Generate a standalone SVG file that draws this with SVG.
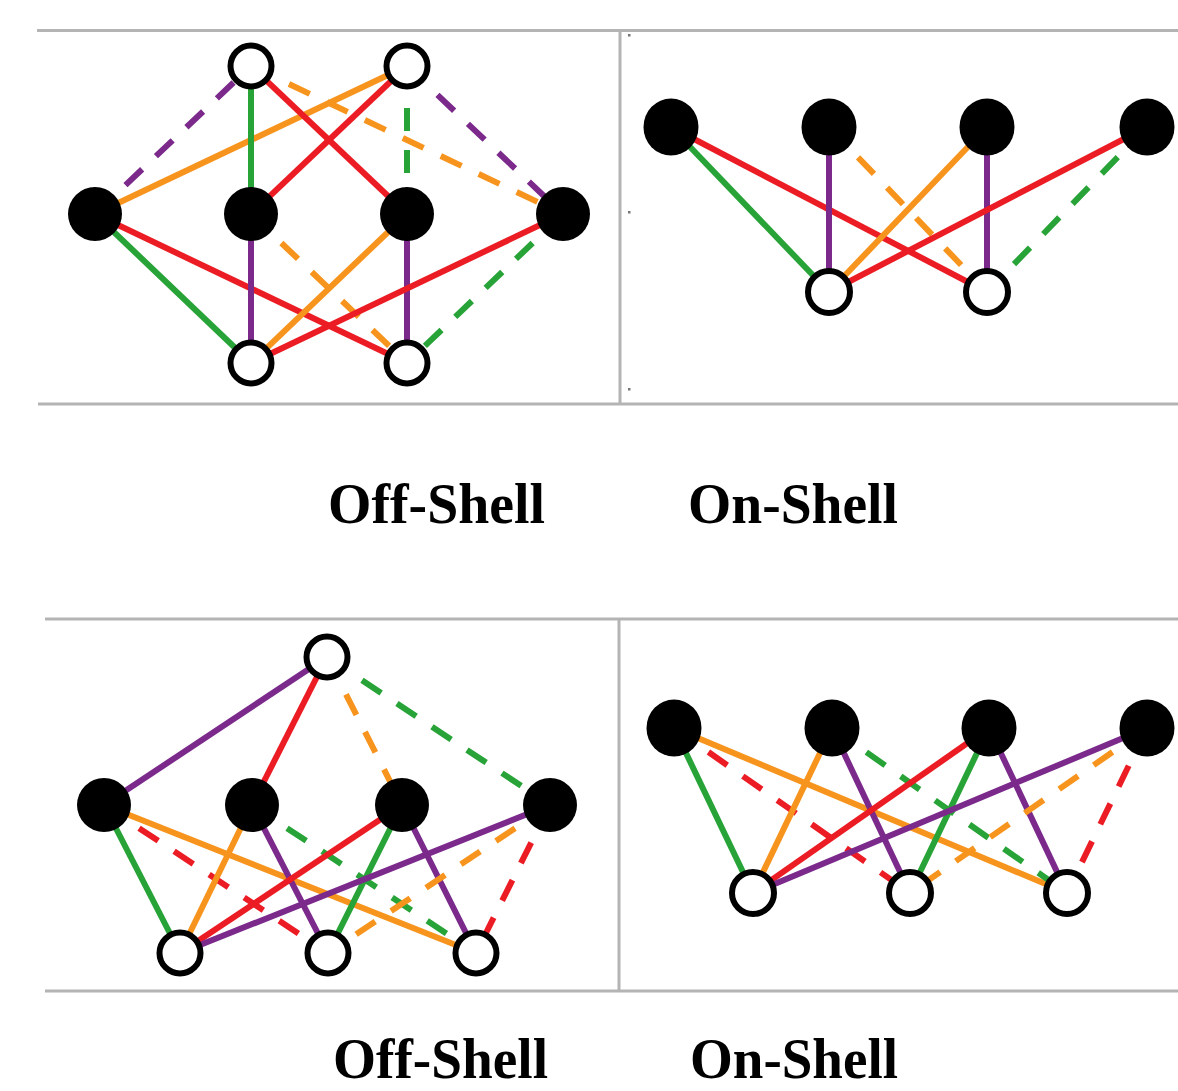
<svg xmlns="http://www.w3.org/2000/svg" width="1178" height="1091" viewBox="0 0 1178 1091">
  <style>
    .rule { stroke: #b4b4b4; stroke-width: 3; fill: none; }
    .tick { fill: #777; }
    .e { stroke-width: 6; fill: none; stroke-linecap: butt; }
    .dash { stroke-dasharray: 23 19; }
    .g { stroke: #27a337; }
    .r { stroke: #ec1c24; }
    .o { stroke: #f7941d; }
    .p { stroke: #7b2a8c; }
    .full { fill: #000; }
    .open { fill: #fff; stroke: #000; stroke-width: 6; }
    .label { font-family: "Liberation Serif", "Times New Roman", serif; font-weight: bold; font-size: 56px; fill: #000; }
  </style>

  <rect x="0" y="0" width="1178" height="1091" fill="#fff"/>

  <!-- table rules -->
  <g id="rules">
    <line class="rule" x1="37" y1="30.5" x2="1178" y2="30.5"/>
    <line class="rule" x1="38" y1="404" x2="1178" y2="404"/>
    <line class="rule" x1="620" y1="30" x2="620" y2="404"/>
    <line class="rule" x1="45" y1="619" x2="1178" y2="619"/>
    <line class="rule" x1="45" y1="991" x2="1178" y2="991"/>
    <line class="rule" x1="619" y1="619" x2="619" y2="991"/>
    <rect class="tick" x="628" y="34" width="2.5" height="2.5"/>
    <rect class="tick" x="628" y="211" width="2.5" height="2.5"/>
    <rect class="tick" x="628" y="388" width="2.5" height="2.5"/>
  </g>

  <!-- connectors -->
  <g id="connectors">
    <!-- upper left: off-shell -->
    <line class="e p dash" x1="95" y1="214" x2="251" y2="66"/>
    <line class="e o" x1="95" y1="214" x2="407" y2="66"/>
    <line class="e g" x1="251" y1="66" x2="251" y2="214"/>
    <line class="e r" x1="251" y1="66" x2="407" y2="214"/>
    <line class="e r" x1="407" y1="66" x2="251" y2="214"/>
    <line class="e o dash" x1="251" y1="66" x2="563" y2="214"/>
    <line class="e g dash" x1="407" y1="66" x2="407" y2="214"/>
    <line class="e p dash" x1="407" y1="66" x2="563" y2="214"/>
    <line class="e g" x1="95" y1="214" x2="251" y2="363"/>
    <line class="e r" x1="95" y1="214" x2="407" y2="363"/>
    <line class="e p" x1="251" y1="214" x2="251" y2="363"/>
    <line class="e o dash" x1="251" y1="214" x2="407" y2="363"/>
    <line class="e o" x1="407" y1="214" x2="251" y2="363"/>
    <line class="e p" x1="407" y1="214" x2="407" y2="363"/>
    <line class="e r" x1="563" y1="214" x2="251" y2="363"/>
    <line class="e g dash" x1="563" y1="214" x2="407" y2="363"/>

    <!-- upper right: on-shell -->
    <line class="e g" x1="671" y1="127" x2="829" y2="292"/>
    <line class="e r" x1="671" y1="127" x2="987" y2="292"/>
    <line class="e p" x1="829" y1="127" x2="829" y2="292"/>
    <line class="e o dash" x1="829" y1="127" x2="987" y2="292"/>
    <line class="e o" x1="987" y1="127" x2="829" y2="292"/>
    <line class="e p" x1="987" y1="127" x2="987" y2="292"/>
    <line class="e r" x1="1147" y1="127" x2="829" y2="292"/>
    <line class="e g dash" x1="1147" y1="127" x2="987" y2="292"/>

    <!-- lower left: off-shell -->
    <line class="e p" x1="327" y1="657" x2="104" y2="805"/>
    <line class="e r" x1="327" y1="657" x2="252" y2="805"/>
    <line class="e o dash" x1="327" y1="657" x2="402" y2="805"/>
    <line class="e g dash" x1="327" y1="657" x2="550" y2="805"/>
    <line class="e g" x1="104" y1="805" x2="180" y2="953"/>
    <line class="e r dash" x1="104" y1="805" x2="328" y2="953"/>
    <line class="e o" x1="104" y1="805" x2="476" y2="953"/>
    <line class="e o" x1="252" y1="805" x2="180" y2="953"/>
    <line class="e p" x1="252" y1="805" x2="328" y2="953"/>
    <line class="e g dash" x1="252" y1="805" x2="476" y2="953"/>
    <line class="e r" x1="402" y1="805" x2="180" y2="953"/>
    <line class="e g" x1="402" y1="805" x2="328" y2="953"/>
    <line class="e p" x1="402" y1="805" x2="476" y2="953"/>
    <line class="e p" x1="550" y1="805" x2="180" y2="953"/>
    <line class="e o dash" x1="550" y1="805" x2="328" y2="953"/>
    <line class="e r dash" x1="550" y1="805" x2="476" y2="953"/>

    <!-- lower right: on-shell -->
    <line class="e g" x1="674" y1="728" x2="753" y2="893"/>
    <line class="e r dash" x1="674" y1="728" x2="910" y2="893"/>
    <line class="e o" x1="674" y1="728" x2="1067" y2="893"/>
    <line class="e o" x1="832" y1="728" x2="753" y2="893"/>
    <line class="e p" x1="832" y1="728" x2="910" y2="893"/>
    <line class="e g dash" x1="832" y1="728" x2="1067" y2="893"/>
    <line class="e r" x1="989" y1="728" x2="753" y2="893"/>
    <line class="e g" x1="989" y1="728" x2="910" y2="893"/>
    <line class="e p" x1="989" y1="728" x2="1067" y2="893"/>
    <line class="e p" x1="1147" y1="728" x2="753" y2="893"/>
    <line class="e o dash" x1="1147" y1="728" x2="910" y2="893"/>
    <line class="e r dash" x1="1147" y1="728" x2="1067" y2="893"/>
  </g>

  <!-- upper left nodes -->
  <g id="ul-o1"><circle class="open" cx="251" cy="66" r="20.5"/></g>
  <g id="ul-o2"><circle class="open" cx="407" cy="66" r="20.5"/></g>
  <g id="ul-f1"><circle class="full" cx="95" cy="214" r="27"/></g>
  <g id="ul-f2"><circle class="full" cx="251" cy="214" r="27"/></g>
  <g id="ul-f3"><circle class="full" cx="407" cy="214" r="27"/></g>
  <g id="ul-f4"><circle class="full" cx="563" cy="214" r="27"/></g>
  <g id="ul-b1"><circle class="open" cx="251" cy="363" r="20.5"/></g>
  <g id="ul-b2"><circle class="open" cx="407" cy="363" r="20.5"/></g>

  <!-- upper right nodes -->
  <g id="ur-f1"><ellipse class="full" cx="671" cy="127" rx="27.5" ry="28.5"/></g>
  <g id="ur-f2"><ellipse class="full" cx="829" cy="127" rx="27.5" ry="28.5"/></g>
  <g id="ur-f3"><ellipse class="full" cx="987" cy="127" rx="27.5" ry="28.5"/></g>
  <g id="ur-f4"><ellipse class="full" cx="1147" cy="127" rx="27.5" ry="28.5"/></g>
  <g id="ur-b1"><circle class="open" cx="829" cy="292" r="21"/></g>
  <g id="ur-b2"><circle class="open" cx="987" cy="292" r="21"/></g>

  <!-- lower left nodes -->
  <g id="ll-t"><circle class="open" cx="327" cy="657" r="20.5"/></g>
  <g id="ll-f1"><circle class="full" cx="104" cy="805" r="27"/></g>
  <g id="ll-f2"><circle class="full" cx="252" cy="805" r="27"/></g>
  <g id="ll-f3"><circle class="full" cx="402" cy="805" r="27"/></g>
  <g id="ll-f4"><circle class="full" cx="550" cy="805" r="27"/></g>
  <g id="ll-b1"><circle class="open" cx="180" cy="953" r="20.5"/></g>
  <g id="ll-b2"><circle class="open" cx="328" cy="953" r="20.5"/></g>
  <g id="ll-b3"><circle class="open" cx="476" cy="953" r="20.5"/></g>

  <!-- lower right nodes -->
  <g id="lr-f1"><ellipse class="full" cx="674" cy="728" rx="27.5" ry="28.5"/></g>
  <g id="lr-f2"><ellipse class="full" cx="832" cy="728" rx="27.5" ry="28.5"/></g>
  <g id="lr-f3"><ellipse class="full" cx="989" cy="728" rx="27.5" ry="28.5"/></g>
  <g id="lr-f4"><ellipse class="full" cx="1147" cy="728" rx="27.5" ry="28.5"/></g>
  <g id="lr-b1"><circle class="open" cx="753" cy="893" r="21"/></g>
  <g id="lr-b2"><circle class="open" cx="910" cy="893" r="21"/></g>
  <g id="lr-b3"><circle class="open" cx="1067" cy="893" r="21"/></g>

  <!-- captions -->
  <g id="captions">
    <text class="label" x="328" y="523" textLength="217" lengthAdjust="spacingAndGlyphs">Off-Shell</text>
    <text class="label" x="688" y="523" textLength="210" lengthAdjust="spacingAndGlyphs">On-Shell</text>
    <text class="label" x="333" y="1078" textLength="215" lengthAdjust="spacingAndGlyphs">Off-Shell</text>
    <text class="label" x="690" y="1078" textLength="208" lengthAdjust="spacingAndGlyphs">On-Shell</text>
  </g>
</svg>
